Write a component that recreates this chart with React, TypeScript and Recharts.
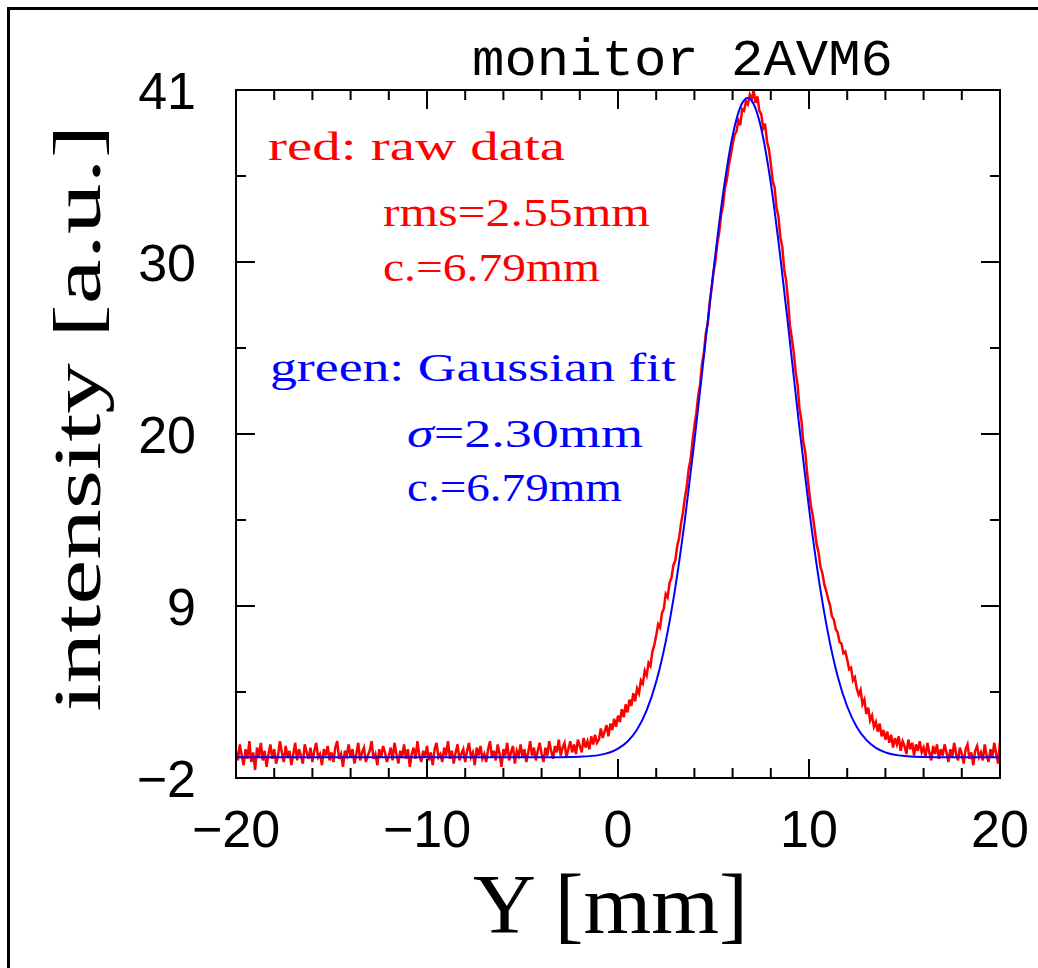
import { LineChart, Line, XAxis, YAxis } from "recharts";

// raw profile, sampled every 0.1 mm from -20 mm
const RAW_START = -20;
const RAW_STEP = 0.1;
const RAW_Y = [
  -0.3, -0.9, 0.1, -0.6, -1.2, -0.2, -0.8, 0.3, -1.0, -0.4,
  -1.5, -0.1, -0.7, 0.2, -0.9, -0.3, -1.3, -0.5, 0.1, -0.8,
  -0.2, -1.1, -0.6, 0.3, -0.4, -1.0, 0.0, -0.7, -0.3, -1.2,
  -0.5, 0.2, -0.9, -0.2, -0.6, -1.1, 0.1, -0.4, -0.8, -0.1,
  -1.0, -0.3, 0.2, -0.7, -0.5, -1.2, -0.2, -0.6, 0.0, -0.9,
  -0.4, -1.0, -0.1, 0.3, -0.8, -0.5, -1.3, -0.3, -0.6, 0.1,
  -0.7, -0.2, -1.1, -0.5, 0.2, -0.9, -0.4, -0.1, -1.0, -0.6,
  -0.3, 0.3, -0.8, -0.5, -1.2, -0.2, -0.7, 0.0, -0.4, -1.0,
  -0.6, -0.1, -0.9, 0.2, -0.5, -1.1, -0.3, -0.7, 0.1, -0.8,
  -0.2, -1.3, -0.5, -0.1, -0.8, 0.3, -0.6, -1.0, -0.3, -0.7,
  0.0, -0.9, -0.4, -1.2, -0.2, 0.2, -0.7, -0.5, -1.0, -0.1,
  -0.6, 0.3, -0.8, -0.3, -1.1, -0.4, 0.1, -0.9, -0.5, -0.2,
  -1.0, -0.3, 0.2, -0.7, -0.4, -1.2, -0.1, -0.6, 0.0, -0.8,
  -0.5, -1.0, -0.2, 0.3, -0.7, -0.3, -0.9, 0.1, -0.5, -1.3,
  -0.2, -0.6, 0.2, -0.9, -0.4, 0.0, -1.1, -0.3, -0.6, 0.1,
  -0.7, -0.2, -1.0, -0.4, 0.3, -0.6, -0.1, -0.9, -0.3, 0.2,
  -0.5, -1.0, -0.1, -0.6, 0.3, -0.3, -0.8, 0.0, -0.4, 0.4,
  -0.6, -0.1, 0.2, -0.7, -0.2, 0.3, -0.4, 0.1, -0.5, 0.4,
  0.0, -0.4, 0.5, -0.1, 0.3, -0.2, 0.6, 0.1, 0.7, 0.2,
  0.4, 1.1, 0.5, 0.9, 1.3, 0.6, 1.4, 1.0, 1.7, 1.2,
  1.9, 1.5, 2.3, 1.8, 2.6, 2.1, 2.9, 2.5, 3.3, 2.8,
  3.6, 3.3, 4.1, 3.9, 4.7, 4.4, 5.2, 5.0, 5.9, 6.3,
  6.9, 7.6, 7.4, 8.3, 8.6, 9.5, 9.3, 10.2, 10.5, 11.3,
  11.6, 12.5, 13.0, 13.9, 14.6, 15.5, 16.2, 17.3, 17.9, 19.0,
  20.0, 20.8, 21.9, 22.6, 23.9, 24.6, 25.8, 26.4, 27.7, 28.6,
  29.6, 30.3, 31.4, 32.1, 33.2, 33.8, 34.9, 35.4, 36.3, 36.9,
  37.6, 38.2, 38.4, 39.1, 38.8, 39.8, 39.7, 40.3, 40.1, 40.7,
  40.4, 41.0, 40.2, 40.6, 39.7, 39.5, 38.6, 38.9, 37.8, 37.3,
  36.4, 35.3, 34.9, 33.6, 33.1, 31.8, 31.2, 29.8, 29.1, 27.9,
  26.3, 25.5, 24.6, 23.4, 22.6, 21.1, 20.4, 19.0, 18.4, 17.1,
  16.0, 15.0, 14.4, 13.5, 12.6, 12.1, 11.2, 10.8, 10.1, 9.7,
  9.2, 8.8, 8.1, 7.9, 7.3, 7.1, 6.5, 6.4, 5.8, 5.9,
  5.4, 4.8, 4.9, 4.1, 4.3, 3.6, 3.2, 3.5, 2.6, 2.9,
  2.0, 2.4, 1.6, 1.9, 1.2, 1.5, 0.9, 1.4, 0.6, 1.0,
  0.4, 0.9, 0.2, 0.7, -0.1, 0.5, 0.1, 0.6, -0.3, 0.3,
  0.0, -0.5, 0.4, -0.2, 0.2, -0.6, 0.1, -0.3, 0.3, -0.4,
  -0.1, -0.7, 0.2, -0.4, -0.9, 0.0, -0.5, 0.1, -0.8, -0.2,
  -0.6, 0.1, -0.4, -1.0, -0.2, -0.7, 0.2, -0.5, -0.9, -0.1,
  -0.5, -1.1, -0.2, 0.1, -0.8, -0.4, -1.2, -0.3, 0.0, -0.7,
  -0.4, -0.9, 0.1, -0.6, -1.0, -0.2, -0.7, 0.2, -0.5, -1.1,
  0.3,
];

// gaussian fit curve
const FIT_X = [
  -20, -10, -5, -3, -2, -1, 0, 0.5, 1, 1.5, 2, 2.5, 3, 3.5, 4, 4.5, 5, 5.5, 6, 6.5,
  6.79, 7, 7.5, 8, 8.5, 9, 9.5, 10, 10.5, 11, 11.5, 12, 12.5, 13, 13.5, 14, 15, 16, 18, 20,
];
const FIT_Y = [
  -0.7, -0.7, -0.7, -0.7, -0.67, -0.57, -0.17, 0.28, 1.03, 2.22, 4.01, 6.54, 9.9, 14.11, 19.04, 24.4, 29.73, 34.5, 38.14, 40.17,
  40.5, 40.33, 38.58, 35.18, 30.55, 25.27, 19.88, 14.86, 10.52, 7.02, 4.36, 2.47, 1.19, 0.38, -0.12, -0.4, -0.63, -0.69, -0.7, -0.7,
];

const X_TICKS = [-20, -18, -16, -14, -12, -10, -8, -6, -4, -2, 0, 2, 4, 6, 8, 10, 12, 14, 16, 18, 20];
const Y_TICKS = [-2, 3.375, 8.75, 14.125, 19.5, 24.875, 30.25, 35.625, 41];

const rawData = RAW_Y.map((y, i) => ({ x: RAW_START + i * RAW_STEP, y }));
const fitData = FIT_X.map((x, i) => ({ x, y: FIT_Y[i] }));

const PLOT_L = 236;
const PLOT_R = 1000;
const PLOT_T = 90;
const PLOT_B = 778;

const fmt = (v: number) => {
  const r = Math.round(v);
  return r < 0 ? "\u2212" + Math.abs(r) : String(r);
};

const XTick = (props: any) => {
  const { x, payload } = props;
  const v = payload.value;
  const major = v % 10 === 0;
  const len = major ? 19 : 10;
  return (
    <g>
      <line x1={x} x2={x} y1={PLOT_B} y2={PLOT_B - len} stroke="#000" strokeWidth={2} />
      <line x1={x} x2={x} y1={PLOT_T} y2={PLOT_T + len} stroke="#000" strokeWidth={2} />
      {major && (
        <text x={x} y={847} textAnchor="middle" fontFamily="Liberation Sans" fontSize={52} fill="#000">
          {fmt(v)}
        </text>
      )}
    </g>
  );
};

const YTick = (props: any) => {
  const { y, payload, index } = props;
  const major = index % 2 === 0;
  const len = major ? 19 : 10;
  return (
    <g>
      <line x1={PLOT_L} x2={PLOT_L + len} y1={y} y2={y} stroke="#000" strokeWidth={2} />
      <line x1={PLOT_R} x2={PLOT_R - len} y1={y} y2={y} stroke="#000" strokeWidth={2} />
      {major && (
        <text x={196} y={y + 19} textAnchor="end" fontFamily="Liberation Sans" fontSize={52} fill="#000">
          {fmt(payload.value)}
        </text>
      )}
    </g>
  );
};

const mono = "'Liberation Mono', monospace";
const serif = "'Liberation Serif', serif";

export default function App() {
  return (
    <div style={{ position: "absolute", left: 0, top: 0, width: 1038, height: 968, background: "#fff", overflow: "hidden" }}>
      <LineChart width={1038} height={968} margin={{ top: PLOT_T, right: 1038 - PLOT_R, bottom: 0, left: 0 }}>
        <XAxis
          type="number"
          dataKey="x"
          domain={[-20, 20]}
          ticks={X_TICKS}
          interval={0}
          height={968 - PLOT_B}
          axisLine={false}
          tickLine={false}
          tick={<XTick />}
          allowDataOverflow
        />
        <YAxis
          type="number"
          dataKey="y"
          domain={[-2, 41]}
          ticks={Y_TICKS}
          interval={0}
          width={PLOT_L}
          axisLine={false}
          tickLine={false}
          tick={<YTick />}
          allowDataOverflow
        />
        <Line data={rawData} dataKey="y" type="linear" stroke="#ff0000" strokeWidth={2.5} dot={false} isAnimationActive={false} />
        <Line data={fitData} dataKey="y" type="monotone" stroke="#0000ff" strokeWidth={2} dot={false} isAnimationActive={false} />
      </LineChart>
      <svg width={1038} height={968} style={{ position: "absolute", left: 0, top: 0, pointerEvents: "none" }}>
        <path d="M8.5,968 L8.5,8.5 L1038,8.5" fill="none" stroke="#000" strokeWidth={3} />
        <rect x={PLOT_L} y={PLOT_T} width={PLOT_R - PLOT_L} height={PLOT_B - PLOT_T} fill="none" stroke="#000" strokeWidth={2} />
        <text x={472} y={75} fontFamily={mono} fontSize={52} textLength={421} lengthAdjust="spacingAndGlyphs" fill="#000">
          monitor 2AVM6
        </text>
        <text
          transform="translate(100,418) rotate(-90)"
          textAnchor="middle"
          fontFamily={serif}
          fontSize={68}
          textLength={587}
          lengthAdjust="spacingAndGlyphs"
          fill="#000"
        >
          intensity [a.u.]
        </text>
        <text x={473} y={933} fontFamily={serif} fontSize={84} textLength={275} lengthAdjust="spacingAndGlyphs" fill="#000">
          Y [mm]
        </text>
        <text x={268} y={160} fontFamily={serif} fontSize={40} textLength={297} lengthAdjust="spacingAndGlyphs" fill="#ff0000">
          red: raw data
        </text>
        <text x={383} y={226} fontFamily={serif} fontSize={40} textLength={267} lengthAdjust="spacingAndGlyphs" fill="#ff0000">
          rms=2.55mm
        </text>
        <text x={383} y={281} fontFamily={serif} fontSize={40} textLength={217} lengthAdjust="spacingAndGlyphs" fill="#ff0000">
          c.=6.79mm
        </text>
        <text x={270} y={381} fontFamily={serif} fontSize={40} textLength={406} lengthAdjust="spacingAndGlyphs" fill="#0000ff">
          green: Gaussian fit
        </text>
        <text x={407} y={447} fontFamily={serif} fontSize={40} textLength={236} lengthAdjust="spacingAndGlyphs" fill="#0000ff">
          <tspan fontStyle="italic">σ</tspan>=2.30mm
        </text>
        <text x={407} y={501} fontFamily={serif} fontSize={40} textLength={215} lengthAdjust="spacingAndGlyphs" fill="#0000ff">
          c.=6.79mm
        </text>
      </svg>
    </div>
  );
}
